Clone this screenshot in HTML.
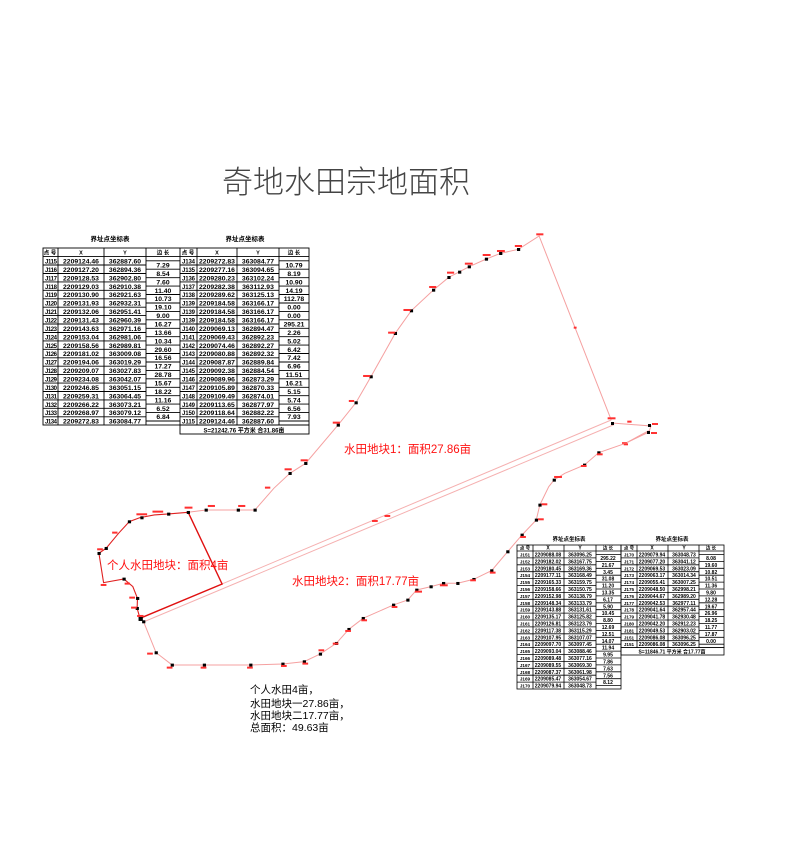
<!DOCTYPE html>
<html><head><meta charset="utf-8"><style>
html,body{margin:0;padding:0;background:#fff;}
svg{display:block;}
.t{font-family:"Liberation Sans","Noto Sans CJK SC",sans-serif;}
.rm rect{height:6px;}
</style></head><body>
<svg width="788" height="842" viewBox="0 0 788 842" xmlns="http://www.w3.org/2000/svg" class="t">
<text x="222" y="193" font-size="31" fill="#444" font-family="Noto Sans CJK SC, sans-serif" font-weight="300" textLength="248" lengthAdjust="spacingAndGlyphs">奇地水田宗地面积</text>

<g transform="translate(90,220) scale(0.357,0.3333)" fill="none">
<polyline vector-effect="non-scaling-stroke" stroke="#f5a0a0" stroke-width="1" points="275,877 325,870 415,870 462,870 515,805 560,760 604,730 695,615 745,548 787,470 855,340 900,272 962,210 1005,172 1062,140 1110,117 1150,100 1200,88 1258,48 1460,600"/>
<line vector-effect="non-scaling-stroke" stroke="#f5b0b0" x1="1460" y1="600" x2="370" y2="1092"/>
<line vector-effect="non-scaling-stroke" stroke="#f5b0b0" x1="1468" y1="614" x2="152" y2="1205"/>
<polyline vector-effect="non-scaling-stroke" stroke="#e01010" stroke-width="1.4" points="275,877 370,1092 140,1195"/>
<polyline vector-effect="non-scaling-stroke" stroke="#e02020" stroke-width="1.1" points="275,877 220,882 180,885 140,893 110,905 80,940 45,985 25,1000 38,1088 95,1077 120,1100 133,1135 132,1165 140,1195"/>
<polyline vector-effect="non-scaling-stroke" stroke="#f5a0a0" stroke-width="1" points="150,1205 185,1298 230,1335 320,1335 450,1335 540,1332 600,1325 645,1302 690,1270 725,1228 765,1195 850,1155 890,1140 915,1110 955,1100 990,1090 1030,1090 1075,1078 1125,1052 1170,995 1210,945 1250,900 1260,855 1285,800 1300,780 1330,760 1385,735 1425,698 1500,670 1565,632"/>
<g fill="#000" stroke="none">
<rect x="321" y="866" width="9" height="9"/><rect x="411" y="866" width="9" height="9"/><rect x="458" y="866" width="9" height="9"/>
<rect x="556" y="756" width="9" height="9"/><rect x="600" y="726" width="9" height="9"/><rect x="691" y="611" width="9" height="9"/>
<rect x="741" y="544" width="9" height="9"/><rect x="783" y="466" width="9" height="9"/><rect x="851" y="336" width="9" height="9"/>
<rect x="896" y="268" width="9" height="9"/><rect x="958" y="206" width="9" height="9"/><rect x="1001" y="168" width="9" height="9"/>
<rect x="1031" y="152" width="9" height="9"/><rect x="1058" y="136" width="9" height="9"/><rect x="1106" y="113" width="9" height="9"/>
<rect x="1146" y="96" width="9" height="9"/><rect x="1196" y="84" width="9" height="9"/>
<rect x="271" y="873" width="9" height="9"/><rect x="216" y="878" width="9" height="9"/><rect x="141" y="889" width="9" height="9"/>
<rect x="106" y="901" width="9" height="9"/><rect x="41" y="981" width="9" height="9"/><rect x="21" y="996" width="9" height="9"/>
<rect x="91" y="1073" width="9" height="9"/><rect x="129" y="1131" width="9" height="9"/><rect x="128" y="1161" width="9" height="9"/>
<rect x="136" y="1191" width="12" height="12"/><rect x="146" y="1201" width="9" height="9"/>
<rect x="181" y="1294" width="9" height="9"/><rect x="226" y="1331" width="9" height="9"/><rect x="316" y="1331" width="9" height="9"/>
<rect x="446" y="1331" width="9" height="9"/><rect x="536" y="1328" width="9" height="9"/><rect x="596" y="1321" width="9" height="9"/>
<rect x="641" y="1298" width="9" height="9"/><rect x="686" y="1266" width="9" height="9"/><rect x="721" y="1224" width="9" height="9"/>
<rect x="761" y="1191" width="9" height="9"/><rect x="846" y="1151" width="9" height="9"/><rect x="886" y="1136" width="9" height="9"/>
<rect x="911" y="1106" width="9" height="9"/><rect x="951" y="1096" width="9" height="9"/><rect x="986" y="1086" width="9" height="9"/>
<rect x="1026" y="1086" width="9" height="9"/><rect x="1071" y="1074" width="9" height="9"/><rect x="1121" y="1048" width="9" height="9"/>
<rect x="1166" y="991" width="9" height="9"/><rect x="1206" y="941" width="9" height="9"/><rect x="1246" y="896" width="9" height="9"/>
<rect x="1256" y="851" width="9" height="9"/><rect x="1296" y="776" width="9" height="9"/><rect x="1381" y="731" width="9" height="9"/>
<rect x="1421" y="694" width="9" height="9"/>
</g>
<g class="rm" fill="#ff3030" stroke="none">
<rect x="330" y="855" width="20" height="6"/><rect x="265" y="860" width="22" height="6"/><rect x="415" y="855" width="20" height="6"/><rect x="490" y="800" width="15" height="6"/>
<rect x="545" y="745" width="20" height="6"/><rect x="590" y="718" width="20" height="6"/><rect x="680" y="605" width="20" height="6"/><rect x="725" y="540" width="15" height="6"/>
<rect x="765" y="465" width="20" height="6"/><rect x="835" y="335" width="20" height="6"/><rect x="878" y="267" width="20" height="6"/><rect x="950" y="198" width="20" height="6"/>
<rect x="1000" y="155" width="20" height="6"/><rect x="1050" y="128" width="22" height="6"/><rect x="1100" y="102" width="22" height="6"/><rect x="1140" y="90" width="22" height="6"/>
<rect x="1190" y="75" width="20" height="6"/><rect x="1250" y="40" width="20" height="6"/><rect x="1450" y="592" width="22" height="6"/>
<rect x="130" y="880" width="30" height="6"/><rect x="175" y="872" width="30" height="6"/><rect x="62" y="935" width="15" height="6"/><rect x="20" y="985" width="16" height="6"/>
<rect x="30" y="1092" width="16" height="6"/><rect x="97" y="1088" width="15" height="6"/><rect x="110" y="1130" width="16" height="6"/><rect x="115" y="1160" width="16" height="6"/>
<rect x="132" y="1185" width="18" height="6"/><rect x="160" y="1298" width="16" height="6"/><rect x="215" y="1340" width="16" height="6"/><rect x="310" y="1340" width="16" height="6"/>
<rect x="440" y="1340" width="16" height="6"/><rect x="535" y="1335" width="16" height="6"/><rect x="595" y="1328" width="16" height="6"/><rect x="640" y="1288" width="16" height="6"/>
<rect x="680" y="1268" width="16" height="6"/><rect x="715" y="1230" width="16" height="6"/><rect x="760" y="1198" width="16" height="6"/><rect x="845" y="1158" width="16" height="6"/>
<rect x="910" y="1112" width="20" height="6"/><rect x="980" y="1093" width="22" height="6"/><rect x="1065" y="1078" width="16" height="6"/><rect x="1120" y="1055" width="16" height="6"/>
<rect x="1205" y="948" width="16" height="6"/><rect x="1255" y="895" width="16" height="6"/><rect x="1265" y="850" width="16" height="6"/><rect x="1300" y="768" width="22" height="6"/>
<rect x="1375" y="735" width="16" height="6"/><rect x="1420" y="700" width="16" height="6"/><rect x="790" y="900" width="16" height="6"/><rect x="825" y="885" width="16" height="6"/>
<rect x="1355" y="320" width="8" height="6"/><rect x="1495" y="670" width="12" height="6"/><rect x="1505" y="602" width="12" height="6"/>
</g>
</g>
<polyline fill="none" stroke="#f5a0a0" points="612,423 651,426 649,432 626,443"/>
<rect x="648" y="424" width="3" height="3" fill="#000"/><rect x="647" y="431" width="3" height="3" fill="#000"/><rect x="611" y="422" width="3" height="3" fill="#000"/>
<rect x="652" y="423" width="6" height="2" fill="#f33"/><rect x="651" y="432" width="6" height="2" fill="#f33"/><rect x="622" y="442" width="5" height="2" fill="#f55"/>

<g font-family="Liberation Sans, Noto Sans CJK SC, sans-serif" fill="#ff1010" font-size="11.5">
<text x="344" y="453">水田地块1：面积27.86亩</text>
<text x="292" y="585">水田地块2：面积17.77亩</text>
<text x="107" y="569">个人水田地块：面积4亩</text>
</g>
<g font-family="Liberation Sans, Noto Sans CJK SC, sans-serif" fill="#000" font-size="10.5">
<text x="250" y="693">个人水田4亩，</text>
<text x="250" y="707">水田地块一27.86亩，</text>
<text x="250" y="719">水田地块二17.77亩，</text>
<text x="250" y="731">总面积：49.63亩</text>
</g>

<g font-family="Liberation Sans, Noto Sans CJK SC, sans-serif" font-weight="bold" font-size="6.5" fill="#000">
<text x="110" y="241" text-anchor="middle">界址点坐标表</text>
<text x="245" y="241" text-anchor="middle">界址点坐标表</text>
</g>
<g fill="none" stroke="#000" stroke-width="0.9">
<rect x="43" y="248" width="266" height="177"/>
<rect x="180" y="425" width="129" height="9"/>
<line x1="58" y1="248" x2="58" y2="425"/><line x1="104" y1="248" x2="104" y2="425"/><line x1="146" y1="248" x2="146" y2="425"/><line x1="180" y1="248" x2="180" y2="425"/>
<line x1="197" y1="248" x2="197" y2="425"/><line x1="237" y1="248" x2="237" y2="425"/><line x1="279" y1="248" x2="279" y2="425"/>
<path d="M43 256.6H146M180 256.6H279M43 265H146M180 265H279M43 273.5H146M180 273.5H279M43 281.9H146M180 281.9H279M43 290.3H146M180 290.3H279M43 298.8H146M180 298.8H279M43 307.2H146M180 307.2H279M43 315.6H146M180 315.6H279M43 324.0H146M180 324.0H279M43 332.5H146M180 332.5H279M43 340.9H146M180 340.9H279M43 349.3H146M180 349.3H279M43 357.8H146M180 357.8H279M43 366.2H146M180 366.2H279M43 374.6H146M180 374.6H279M43 383.1H146M180 383.1H279M43 391.5H146M180 391.5H279M43 399.9H146M180 399.9H279M43 408.3H146M180 408.3H279M43 416.8H146M180 416.8H279"/>
<path d="M146 256.6H180M279 256.6H309M146 260.8H180M279 260.8H309M146 269.2H180M279 269.2H309M146 277.7H180M279 277.7H309M146 286.1H180M279 286.1H309M146 294.5H180M279 294.5H309M146 303H180M279 303H309M146 311.4H180M279 311.4H309M146 319.8H180M279 319.8H309M146 328.3H180M279 328.3H309M146 336.7H180M279 336.7H309M146 345.1H180M279 345.1H309M146 353.5H180M279 353.5H309M146 362H180M279 362H309M146 370.4H180M279 370.4H309M146 378.8H180M279 378.8H309M146 387.3H180M279 387.3H309M146 395.7H180M279 395.7H309M146 404.1H180M279 404.1H309M146 412.6H180M279 412.6H309M146 421H180M279 421H309"/>
</g>
<g font-family="Liberation Sans, Noto Sans CJK SC, sans-serif" font-size="6.8" font-weight="bold" fill="#000">
<g text-anchor="middle" font-size="5.5"><text x="50" y="254.5">点 号</text><text x="81" y="254.5">X</text><text x="125" y="254.5">Y</text><text x="163" y="254.5">边 长</text><text x="188" y="254.5">点 号</text><text x="217" y="254.5">X</text><text x="258" y="254.5">Y</text><text x="294" y="254.5">边 长</text></g>
<g font-size="6">
<text x="45" y="263.5" textLength="12">J115</text><text x="45" y="271.9" textLength="12">J116</text><text x="45" y="280.3" textLength="12">J117</text><text x="45" y="288.8" textLength="12">J118</text><text x="45" y="297.2" textLength="12">J119</text><text x="45" y="305.6" textLength="12">J120</text><text x="45" y="314.1" textLength="12">J121</text><text x="45" y="322.5" textLength="12">J122</text><text x="45" y="330.9" textLength="12">J123</text><text x="45" y="339.4" textLength="12">J124</text><text x="45" y="347.8" textLength="12">J125</text><text x="45" y="356.2" textLength="12">J126</text><text x="45" y="364.6" textLength="12">J127</text><text x="45" y="373.1" textLength="12">J128</text><text x="45" y="381.5" textLength="12">J129</text><text x="45" y="389.9" textLength="12">J130</text><text x="45" y="398.4" textLength="12">J131</text><text x="45" y="406.8" textLength="12">J132</text><text x="45" y="415.2" textLength="12">J133</text><text x="45" y="423.7" textLength="12">J134</text>
</g>
<g text-anchor="middle">
<text x="81" y="263.5">2209124.46</text><text x="81" y="271.9">2209127.20</text><text x="81" y="280.3">2209128.53</text><text x="81" y="288.8">2209129.03</text><text x="81" y="297.2">2209130.90</text><text x="81" y="305.6">2209131.93</text><text x="81" y="314.1">2209132.06</text><text x="81" y="322.5">2209131.43</text><text x="81" y="330.9">2209143.63</text><text x="81" y="339.4">2209153.04</text><text x="81" y="347.8">2209158.56</text><text x="81" y="356.2">2209181.02</text><text x="81" y="364.6">2209194.06</text><text x="81" y="373.1">2209209.07</text><text x="81" y="381.5">2209234.08</text><text x="81" y="389.9">2209246.85</text><text x="81" y="398.4">2209259.31</text><text x="81" y="406.8">2209266.22</text><text x="81" y="415.2">2209268.97</text><text x="81" y="423.7">2209272.83</text>
<text x="125" y="263.5">362887.60</text><text x="125" y="271.9">362894.36</text><text x="125" y="280.3">362902.80</text><text x="125" y="288.8">362910.38</text><text x="125" y="297.2">362921.63</text><text x="125" y="305.6">362932.31</text><text x="125" y="314.1">362951.41</text><text x="125" y="322.5">362960.39</text><text x="125" y="330.9">362971.16</text><text x="125" y="339.4">362981.06</text><text x="125" y="347.8">362989.81</text><text x="125" y="356.2">363009.08</text><text x="125" y="364.6">363019.29</text><text x="125" y="373.1">363027.83</text><text x="125" y="381.5">363042.07</text><text x="125" y="389.9">363051.15</text><text x="125" y="398.4">363064.45</text><text x="125" y="406.8">363073.21</text><text x="125" y="415.2">363079.12</text><text x="125" y="423.7">363084.77</text>
<text x="163" y="267.5">7.29</text><text x="163" y="275.9">8.54</text><text x="163" y="284.3">7.60</text><text x="163" y="292.8">11.40</text><text x="163" y="301.2">10.73</text><text x="163" y="309.6">19.10</text><text x="163" y="318.1">9.00</text><text x="163" y="326.5">16.27</text><text x="163" y="334.9">13.66</text><text x="163" y="343.4">10.34</text><text x="163" y="351.8">29.60</text><text x="163" y="360.2">16.56</text><text x="163" y="368.6">17.27</text><text x="163" y="377.1">28.78</text><text x="163" y="385.5">15.67</text><text x="163" y="393.9">18.22</text><text x="163" y="402.4">11.16</text><text x="163" y="410.8">6.52</text><text x="163" y="419.2">6.84</text>
<text x="217" y="263.5">2209272.83</text><text x="217" y="271.9">2209277.16</text><text x="217" y="280.3">2209280.23</text><text x="217" y="288.8">2209282.38</text><text x="217" y="297.2">2209289.62</text><text x="217" y="305.6">2209184.58</text><text x="217" y="314.1">2209184.58</text><text x="217" y="322.5">2209184.58</text><text x="217" y="330.9">2209069.13</text><text x="217" y="339.4">2209069.43</text><text x="217" y="347.8">2209074.46</text><text x="217" y="356.2">2209080.88</text><text x="217" y="364.6">2209087.87</text><text x="217" y="373.1">2209092.38</text><text x="217" y="381.5">2209089.96</text><text x="217" y="389.9">2209105.89</text><text x="217" y="398.4">2209109.49</text><text x="217" y="406.8">2209113.65</text><text x="217" y="415.2">2209118.64</text><text x="217" y="423.7">2209124.46</text>
<text x="258" y="263.5">363084.77</text><text x="258" y="271.9">363094.65</text><text x="258" y="280.3">363102.24</text><text x="258" y="288.8">363112.93</text><text x="258" y="297.2">363125.13</text><text x="258" y="305.6">363166.17</text><text x="258" y="314.1">363166.17</text><text x="258" y="322.5">363166.17</text><text x="258" y="330.9">362894.47</text><text x="258" y="339.4">362892.23</text><text x="258" y="347.8">362892.27</text><text x="258" y="356.2">362892.32</text><text x="258" y="364.6">362889.84</text><text x="258" y="373.1">362884.54</text><text x="258" y="381.5">362873.29</text><text x="258" y="389.9">362870.33</text><text x="258" y="398.4">362874.01</text><text x="258" y="406.8">362877.97</text><text x="258" y="415.2">362882.22</text><text x="258" y="423.7">362887.60</text>
<text x="294" y="267.5">10.79</text><text x="294" y="275.9">8.19</text><text x="294" y="284.3">10.90</text><text x="294" y="292.8">14.19</text><text x="294" y="301.2">112.78</text><text x="294" y="309.6">0.00</text><text x="294" y="318.1">0.00</text><text x="294" y="326.5">295.21</text><text x="294" y="334.9">2.26</text><text x="294" y="343.4">5.02</text><text x="294" y="351.8">6.42</text><text x="294" y="360.2">7.42</text><text x="294" y="368.6">6.96</text><text x="294" y="377.1">11.51</text><text x="294" y="385.5">16.21</text><text x="294" y="393.9">5.15</text><text x="294" y="402.4">5.74</text><text x="294" y="410.8">6.56</text><text x="294" y="419.2">7.93</text>
<text x="244" y="432.3" font-size="6">S=21242.76 平方米 合31.86亩</text>
</g>
<g font-size="6">
<text x="182" y="263.5" textLength="13">J134</text><text x="182" y="271.9" textLength="13">J135</text><text x="182" y="280.3" textLength="13">J136</text><text x="182" y="288.8" textLength="13">J137</text><text x="182" y="297.2" textLength="13">J138</text><text x="182" y="305.6" textLength="13">J139</text><text x="182" y="314.1" textLength="13">J139</text><text x="182" y="322.5" textLength="13">J139</text><text x="182" y="330.9" textLength="13">J140</text><text x="182" y="339.4" textLength="13">J141</text><text x="182" y="347.8" textLength="13">J142</text><text x="182" y="356.2" textLength="13">J143</text><text x="182" y="364.6" textLength="13">J144</text><text x="182" y="373.1" textLength="13">J145</text><text x="182" y="381.5" textLength="13">J146</text><text x="182" y="389.9" textLength="13">J147</text><text x="182" y="398.4" textLength="13">J148</text><text x="182" y="406.8" textLength="13">J149</text><text x="182" y="415.2" textLength="13">J150</text><text x="182" y="423.7" textLength="13">J115</text>
</g>
</g>

<g font-family="Liberation Sans, Noto Sans CJK SC, sans-serif" font-weight="bold" font-size="5.5" fill="#000">
<text x="569" y="541" text-anchor="middle">界址点坐标表</text>
<text x="672" y="541" text-anchor="middle">界址点坐标表</text>
</g>
<g fill="none" stroke="#000" stroke-width="0.8">
<rect x="517" y="545" width="104" height="144"/>
<rect x="621" y="545" width="103" height="102.6"/>
<rect x="621" y="647.6" width="103" height="7.4"/>
<path d="M533 545V689M564 545V689M596 545V689M637 545V647.6M668 545V647.6M699 545V647.6"/>
<path d="M517 551H596M517 557.9H596M517 564.8H596M517 571.7H596M517 578.6H596M517 585.5H596M517 592.4H596M517 599.3H596M517 606.2H596M517 613.1H596M517 620H596M517 626.9H596M517 633.8H596M517 640.7H596M517 647.6H596M517 654.5H596M517 661.4H596M517 668.3H596M517 675.2H596M517 682.1H596"/>
<path d="M596 551H621M596 554.5H621M596 561.4H621M596 568.3H621M596 575.2H621M596 582.1H621M596 589H621M596 595.9H621M596 602.8H621M596 609.7H621M596 616.6H621M596 623.5H621M596 630.4H621M596 637.3H621M596 644.2H621M596 651.1H621M596 658H621M596 664.9H621M596 671.8H621M596 678.7H621M596 685.6H621"/>
<path d="M621 551H699M621 557.9H699M621 564.8H699M621 571.7H699M621 578.6H699M621 585.5H699M621 592.4H699M621 599.3H699M621 606.2H699M621 613.1H699M621 620H699M621 626.9H699M621 633.8H699M621 640.7H699"/>
<path d="M699 551H724M699 554.5H724M699 561.4H724M699 568.3H724M699 575.2H724M699 582.1H724M699 589H724M699 595.9H724M699 602.8H724M699 609.7H724M699 616.6H724M699 623.5H724M699 630.4H724M699 637.3H724M699 644.2H724"/>
</g>
<g font-family="Liberation Sans, Noto Sans CJK SC, sans-serif" font-size="5" font-weight="bold" fill="#000" text-anchor="middle">
<text x="525" y="549.6" font-size="4.5">点 号</text><text x="548" y="549.6">X</text><text x="580" y="549.6">Y</text><text x="608" y="549.6" font-size="4.5">边 长</text>
<text x="629" y="549.6" font-size="4.5">点 号</text><text x="652" y="549.6">X</text><text x="684" y="549.6">Y</text><text x="711" y="549.6" font-size="4.5">边 长</text>
<g font-size="4.6">
<text x="525" y="556.5">J151</text><text x="525" y="563.4">J152</text><text x="525" y="570.3">J153</text><text x="525" y="577.2">J154</text><text x="525" y="584.1">J155</text><text x="525" y="591">J156</text><text x="525" y="597.9">J157</text><text x="525" y="604.8">J158</text><text x="525" y="611.7">J159</text><text x="525" y="618.6">J160</text><text x="525" y="625.5">J161</text><text x="525" y="632.4">J162</text><text x="525" y="639.3">J163</text><text x="525" y="646.2">J164</text><text x="525" y="653.1">J165</text><text x="525" y="660">J166</text><text x="525" y="666.9">J167</text><text x="525" y="673.8">J168</text><text x="525" y="680.7">J169</text><text x="525" y="687.6">J170</text>
</g>
<text x="548" y="556.5">2209088.08</text><text x="548" y="563.4">2209182.02</text><text x="548" y="570.3">2209180.45</text><text x="548" y="577.2">2209177.11</text><text x="548" y="584.1">2209165.33</text><text x="548" y="591">2209158.66</text><text x="548" y="597.9">2209152.98</text><text x="548" y="604.8">2209148.34</text><text x="548" y="611.7">2209143.88</text><text x="548" y="618.6">2209135.17</text><text x="548" y="625.5">2209126.81</text><text x="548" y="632.4">2209117.38</text><text x="548" y="639.3">2209107.95</text><text x="548" y="646.2">2209097.70</text><text x="548" y="653.1">2209093.04</text><text x="548" y="660">2209089.48</text><text x="548" y="666.9">2209089.55</text><text x="548" y="673.8">2209087.37</text><text x="548" y="680.7">2209085.47</text><text x="548" y="687.6">2209079.94</text>
<text x="580" y="556.5">363096.25</text><text x="580" y="563.4">363167.75</text><text x="580" y="570.3">363169.36</text><text x="580" y="577.2">363168.49</text><text x="580" y="584.1">363159.75</text><text x="580" y="591">363150.75</text><text x="580" y="597.9">363138.79</text><text x="580" y="604.8">363133.79</text><text x="580" y="611.7">363131.61</text><text x="580" y="618.6">363125.82</text><text x="580" y="625.5">363123.79</text><text x="580" y="632.4">363115.29</text><text x="580" y="639.3">363107.07</text><text x="580" y="646.2">363097.45</text><text x="580" y="653.1">363088.46</text><text x="580" y="660">363077.16</text><text x="580" y="666.9">363069.30</text><text x="580" y="673.8">363061.98</text><text x="580" y="680.7">363054.67</text><text x="580" y="687.6">363048.73</text>
<text x="608" y="560">295.22</text><text x="608" y="566.9">21.67</text><text x="608" y="573.8">3.45</text><text x="608" y="580.7">31.08</text><text x="608" y="587.6">11.20</text><text x="608" y="594.5">13.35</text><text x="608" y="601.4">6.17</text><text x="608" y="608.3">5.90</text><text x="608" y="615.2">10.45</text><text x="608" y="622.1">8.80</text><text x="608" y="629">12.69</text><text x="608" y="635.9">12.51</text><text x="608" y="642.8">14.07</text><text x="608" y="649.7">11.94</text><text x="608" y="656.6">9.95</text><text x="608" y="663.5">7.86</text><text x="608" y="670.4">7.63</text><text x="608" y="677.3">7.56</text><text x="608" y="684.2">8.12</text>
<g font-size="4.6">
<text x="629" y="556.5">J170</text><text x="629" y="563.4">J171</text><text x="629" y="570.3">J172</text><text x="629" y="577.2">J173</text><text x="629" y="584.1">J174</text><text x="629" y="591">J175</text><text x="629" y="597.9">J176</text><text x="629" y="604.8">J177</text><text x="629" y="611.7">J178</text><text x="629" y="618.6">J179</text><text x="629" y="625.5">J180</text><text x="629" y="632.4">J181</text><text x="629" y="639.3">J151</text><text x="629" y="646.2">J151</text>
</g>
<text x="652" y="556.5">2209079.94</text><text x="652" y="563.4">2209077.20</text><text x="652" y="570.3">2209069.53</text><text x="652" y="577.2">2209063.17</text><text x="652" y="584.1">2209055.41</text><text x="652" y="591">2209048.50</text><text x="652" y="597.9">2209044.67</text><text x="652" y="604.8">2209042.53</text><text x="652" y="611.7">2209041.64</text><text x="652" y="618.6">2209041.78</text><text x="652" y="625.5">2209042.20</text><text x="652" y="632.4">2209049.53</text><text x="652" y="639.3">2209086.08</text><text x="652" y="646.2">2209086.08</text>
<text x="684" y="556.5">363048.73</text><text x="684" y="563.4">363041.12</text><text x="684" y="570.3">363023.09</text><text x="684" y="577.2">363014.34</text><text x="684" y="584.1">363007.25</text><text x="684" y="591">362998.21</text><text x="684" y="597.9">362989.20</text><text x="684" y="604.8">362977.11</text><text x="684" y="611.7">362957.44</text><text x="684" y="618.6">362930.48</text><text x="684" y="625.5">362912.23</text><text x="684" y="632.4">362903.02</text><text x="684" y="639.3">363096.25</text><text x="684" y="646.2">363096.25</text>
<text x="711" y="560">8.08</text><text x="711" y="566.9">19.60</text><text x="711" y="573.8">10.82</text><text x="711" y="580.7">10.51</text><text x="711" y="587.6">11.36</text><text x="711" y="594.5">9.80</text><text x="711" y="601.4">12.28</text><text x="711" y="608.3">19.67</text><text x="711" y="615.2">26.96</text><text x="711" y="622.1">18.25</text><text x="711" y="629">11.77</text><text x="711" y="635.9">17.87</text><text x="711" y="642.8">0.00</text>
<text x="672" y="653.3">S=11846.71 平方米 合17.77亩</text>
</g>
</svg>
</body></html>
